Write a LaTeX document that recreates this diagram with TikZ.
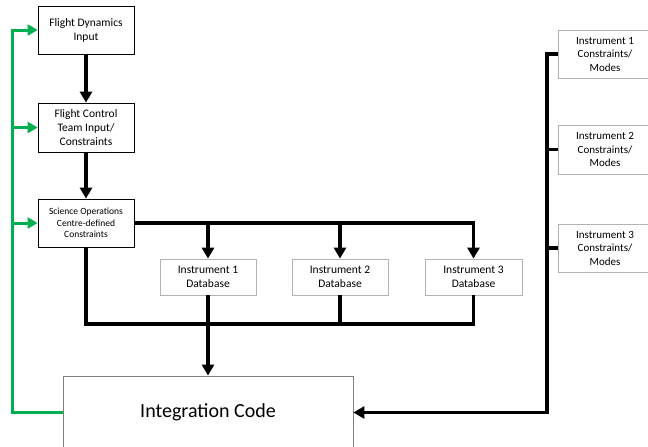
\documentclass[tikz,border=0pt]{standalone}
\usepackage{fontspec}
\setmainfont{Carlito}
\usetikzlibrary{arrows.meta}
\definecolor{loopgreen}{HTML}{00B050}
\tikzset{
  stepbox/.style={draw=black, line width=0.8pt, minimum width=96pt, inner sep=0pt, align=center, font=\fontsize{11.5}{14}\selectfont},
  instbox/.style={draw=gray!60, line width=0.8pt, inner sep=0pt, align=center, font=\fontsize{11.5}{14}\selectfont},
  flow/.style={line width=3.2pt},
  flowarrow/.style={flow, -{Triangle[length=11pt,width=12pt]}},
  loopline/.style={line width=3pt, draw=loopgreen},
  looparrow/.style={loopline, -{Triangle[length=10pt,width=11pt]}}
}
\begin{document}
\begin{tikzpicture}[x=1pt, y=-1pt]
  \useasboundingbox (0,0) rectangle (648,447);
  % left column
  \node[stepbox, minimum height=48pt] (fd) at (86,30) {Flight Dynamics\\Input};
  \node[stepbox, minimum height=49pt] (fc) at (86,127.5) {Flight Control\\Team Input/\\Constraints};
  \node[stepbox, minimum height=48pt, font=\fontsize{9.5}{11.5}\selectfont] (so) at (86,223) {Science Operations\\Centre-defined\\Constraints};
  % instrument databases
  \node[instbox, minimum width=96pt, minimum height=36pt] (db1) at (208,277) {Instrument 1\\Database};
  \node[instbox, minimum width=96pt, minimum height=36pt] (db2) at (340,277) {Instrument 2\\Database};
  \node[instbox, minimum width=97pt, minimum height=36pt] (db3) at (473.5,277) {Instrument 3\\Database};
  % instrument constraints (cut at the right edge)
  \node[instbox, minimum width=94pt, minimum height=48pt, font=\fontsize{11}{13.5}\selectfont] (ic1) at (605,54) {Instrument 1\\Constraints/\\Modes};
  \node[instbox, minimum width=94pt, minimum height=49pt, font=\fontsize{11}{13.5}\selectfont] (ic2) at (605,149.5) {Instrument 2\\Constraints/\\Modes};
  \node[instbox, minimum width=94pt, minimum height=48pt, font=\fontsize{11}{13.5}\selectfont] (ic3) at (605,248) {Instrument 3\\Constraints/\\Modes};
  % integration code
  \node[draw=gray, line width=0.8pt, minimum width=290pt, minimum height=73pt, inner sep=0pt,
        font=\fontsize{20}{24}\selectfont] (integ) at (208,412.5) {Integration Code};

  \coordinate (bus) at (0,324);
  \coordinate (gbar) at (12,0);
  \coordinate (rbar) at (547,0);

  % main flow
  \draw[flowarrow] (fd) -- (fc);
  \draw[flowarrow] (fc) -- (so);
  \draw[flowarrow] (so.east) -| (db3.north);
  \draw[flowarrow] (db1.north |- so.east) -- (db1.north);
  \draw[flowarrow] (db2.north |- so.east) -- (db2.north);
  \draw[flow] (so.south) |- (db3.south |- bus) -- (db3.south);
  \draw[flow] (db2.south) -- (db2.south |- bus);
  \draw[flowarrow] (db1.south) -- (integ.north);

  % instrument constraints into integration code
  \draw[flowarrow] (ic1.west) -| (rbar |- integ.east) -- (integ.east);
  \draw[flow] (ic2.west) -- (ic2.west -| rbar);
  \draw[flow] (ic3.west) -- (ic3.west -| rbar);

  % feedback loop
  \draw[looparrow] (integ.west) -| (gbar |- fd.west) -- (fd.west);
  \draw[looparrow] (gbar |- fc.west) -- (fc.west);
  \draw[looparrow] (gbar |- so.west) -- (so.west);
\end{tikzpicture}
\end{document}
